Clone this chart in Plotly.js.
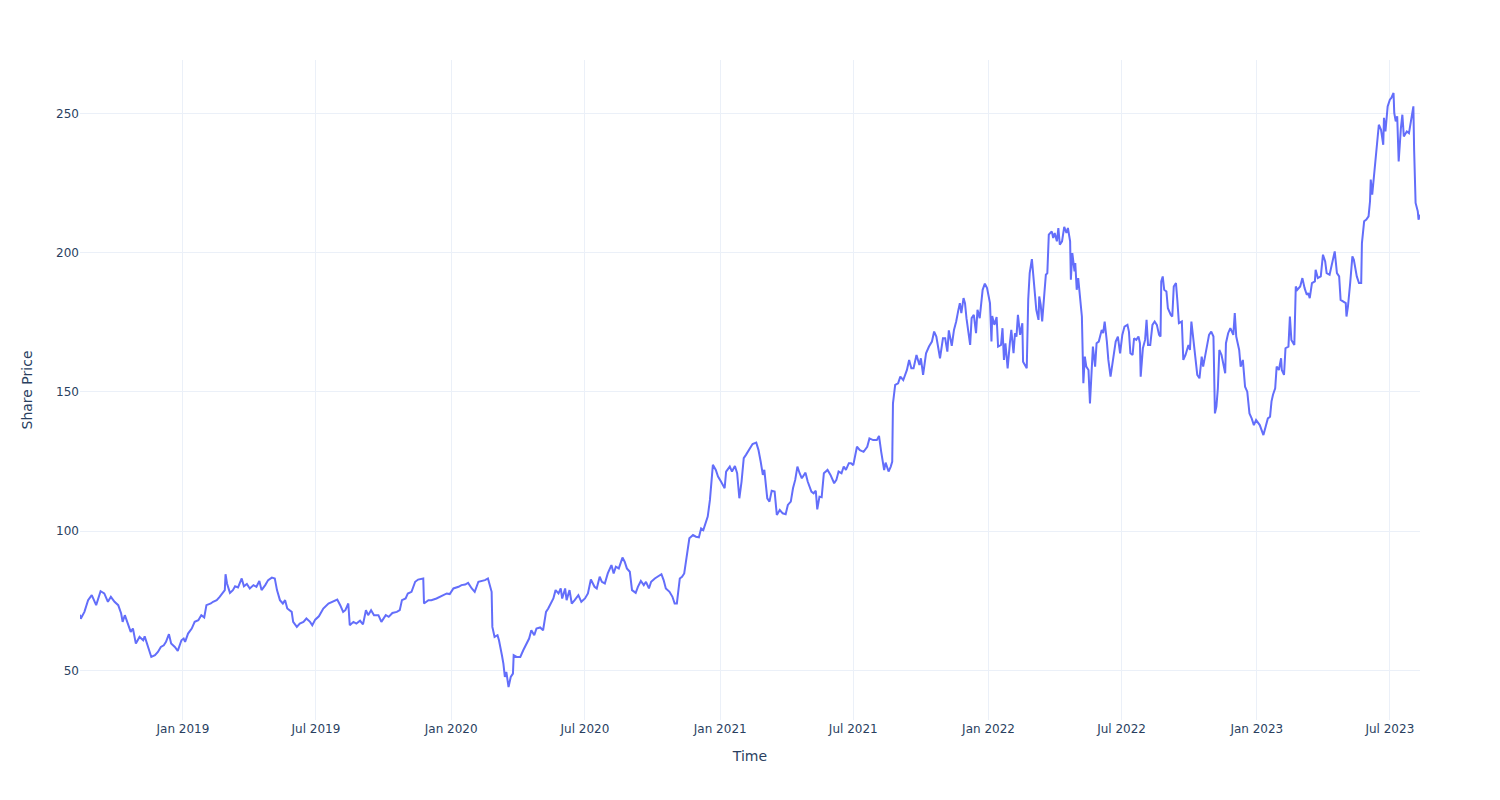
<!DOCTYPE html>
<html>
<head>
<meta charset="utf-8">
<script src="https://cdn.plot.ly/plotly-3.0.1.min.js"></script>
<style>html,body{margin:0;padding:0;background:#fff;}#chart{width:1500px;height:800px;}</style>
</head>
<body>
<div id="chart"></div>
<script>
const dates = [
"2018-08-14","2018-08-15","2018-08-20","2018-08-25","2018-08-30","2018-09-05","2018-09-11","2018-09-16","2018-09-21","2018-09-25",
"2018-09-30","2018-10-05","2018-10-09","2018-10-11","2018-10-14","2018-10-19","2018-10-22","2018-10-25","2018-10-29","2018-11-03",
"2018-11-08","2018-11-10","2018-11-14","2018-11-19","2018-11-24","2018-11-28","2018-12-02","2018-12-06","2018-12-09","2018-12-13",
"2018-12-16","2018-12-21","2018-12-25","2018-12-30",
"2019-01-02","2019-01-04","2019-01-08","2019-01-13","2019-01-17","2019-01-22","2019-01-26","2019-01-30","2019-02-02","2019-02-08",
"2019-02-11","2019-02-16","2019-02-20","2019-02-24","2019-02-27","2019-02-28","2019-03-02","2019-03-06","2019-03-10","2019-03-13",
"2019-03-17","2019-03-22","2019-03-25","2019-03-29","2019-04-02","2019-04-07","2019-04-11","2019-04-15","2019-04-18","2019-04-23",
"2019-04-27","2019-05-02","2019-05-06","2019-05-09","2019-05-13","2019-05-17","2019-05-20","2019-05-23","2019-05-29","2019-05-31",
"2019-06-05","2019-06-09","2019-06-14","2019-06-18","2019-06-23","2019-06-26","2019-06-30","2019-07-05",
"2019-07-11","2019-07-18","2019-07-24","2019-07-30","2019-08-03","2019-08-07","2019-08-10","2019-08-14","2019-08-16","2019-08-21",
"2019-08-25","2019-08-30","2019-09-03","2019-09-07","2019-09-10","2019-09-14","2019-09-18","2019-09-24","2019-09-28","2019-10-04",
"2019-10-08","2019-10-13","2019-10-19","2019-10-23","2019-10-26","2019-10-31","2019-11-03","2019-11-08","2019-11-13","2019-11-17",
"2019-11-24","2019-11-25","2019-12-01","2019-12-05","2019-12-12","2019-12-19","2019-12-26","2019-12-30",
"2020-01-04","2020-01-11","2020-01-15","2020-01-20","2020-01-24","2020-01-29","2020-02-02","2020-02-07","2020-02-11","2020-02-16",
"2020-02-20","2020-02-23","2020-02-25","2020-02-26","2020-02-29","2020-03-04","2020-03-06","2020-03-10","2020-03-12","2020-03-14",
"2020-03-16","2020-03-19","2020-03-22","2020-03-25","2020-03-26","2020-03-30","2020-04-04","2020-04-08","2020-04-13","2020-04-16",
"2020-04-19","2020-04-23","2020-04-26","2020-05-01","2020-05-05","2020-05-09","2020-05-12","2020-05-15","2020-05-19","2020-05-22",
"2020-05-26","2020-05-29","2020-05-31","2020-06-04","2020-06-06","2020-06-10","2020-06-13","2020-06-17","2020-06-22","2020-06-26",
"2020-07-01","2020-07-05","2020-07-09","2020-07-14","2020-07-17","2020-07-21","2020-07-24","2020-07-28","2020-08-01","2020-08-06",
"2020-08-09","2020-08-12","2020-08-16","2020-08-21","2020-08-24","2020-08-27","2020-08-31","2020-09-03","2020-09-08","2020-09-11",
"2020-09-15","2020-09-19","2020-09-22","2020-09-26","2020-09-29","2020-10-04","2020-10-08","2020-10-13","2020-10-16","2020-10-19",
"2020-10-24","2020-10-28","2020-10-31","2020-11-03","2020-11-07","2020-11-10","2020-11-13","2020-11-16","2020-11-18","2020-11-20",
"2020-11-25","2020-11-29","2020-12-03","2020-12-06","2020-12-09","2020-12-12","2020-12-15","2020-12-18","2020-12-20","2020-12-22",
"2020-12-26","2020-12-29",
"2021-01-02","2021-01-07","2021-01-09","2021-01-14","2021-01-17","2021-01-21","2021-01-24","2021-01-27","2021-01-30","2021-02-02",
"2021-02-05","2021-02-10","2021-02-14","2021-02-19","2021-02-22","2021-02-25","2021-02-28","2021-03-02","2021-03-06","2021-03-09",
"2021-03-12","2021-03-16","2021-03-19","2021-03-23","2021-03-27","2021-03-31","2021-04-03","2021-04-07","2021-04-10","2021-04-13",
"2021-04-16","2021-04-19","2021-04-22","2021-04-27","2021-04-30","2021-05-05","2021-05-08","2021-05-11","2021-05-13","2021-05-16",
"2021-05-19","2021-05-22","2021-05-27","2021-05-31","2021-06-05","2021-06-08","2021-06-11","2021-06-15","2021-06-18","2021-06-21",
"2021-06-25","2021-06-28","2021-07-01","2021-07-06","2021-07-10","2021-07-15","2021-07-20","2021-07-23","2021-07-28","2021-08-02",
"2021-08-05","2021-08-08","2021-08-12","2021-08-14","2021-08-18","2021-08-21","2021-08-23","2021-08-24","2021-08-27","2021-08-31",
"2021-09-03","2021-09-07","2021-09-12","2021-09-15","2021-09-18","2021-09-21","2021-09-25","2021-09-29","2021-10-01","2021-10-04",
"2021-10-08","2021-10-12","2021-10-16","2021-10-19","2021-10-22","2021-10-27","2021-10-31","2021-11-03","2021-11-06","2021-11-08",
"2021-11-12","2021-11-15","2021-11-18","2021-11-21","2021-11-23","2021-11-25","2021-11-28","2021-11-30","2021-12-02","2021-12-07",
"2021-12-09","2021-12-12","2021-12-15","2021-12-17","2021-12-20","2021-12-24","2021-12-27","2021-12-30",
"2022-01-03","2022-01-05","2022-01-06","2022-01-09","2022-01-12","2022-01-14","2022-01-18","2022-01-20","2022-01-22","2022-01-24",
"2022-01-27","2022-01-30","2022-02-01","2022-02-04","2022-02-06","2022-02-08","2022-02-10","2022-02-13","2022-02-16","2022-02-17",
"2022-02-22","2022-02-24","2022-02-26","2022-03-01","2022-03-03","2022-03-05","2022-03-07","2022-03-10","2022-03-11","2022-03-13",
"2022-03-15","2022-03-18","2022-03-20","2022-03-22","2022-03-24","2022-03-28","2022-03-30","2022-04-01","2022-04-04","2022-04-06",
"2022-04-08","2022-04-11","2022-04-14","2022-04-17","2022-04-19","2022-04-22","2022-04-23","2022-04-25","2022-04-28","2022-04-29",
"2022-05-01","2022-05-03","2022-05-05","2022-05-08","2022-05-10","2022-05-12","2022-05-14","2022-05-17","2022-05-19","2022-05-21",
"2022-05-23","2022-05-26","2022-05-28","2022-05-31","2022-06-04","2022-06-06","2022-06-08","2022-06-11","2022-06-13","2022-06-16",
"2022-06-20","2022-06-23","2022-06-26","2022-06-29","2022-07-02","2022-07-05","2022-07-09","2022-07-11","2022-07-13","2022-07-16",
"2022-07-18","2022-07-21","2022-07-24","2022-07-26","2022-07-27","2022-07-30","2022-08-02","2022-08-04","2022-08-06","2022-08-09",
"2022-08-12","2022-08-15","2022-08-18","2022-08-21","2022-08-23","2022-08-24","2022-08-26","2022-08-28","2022-08-31","2022-09-02",
"2022-09-06","2022-09-08","2022-09-10","2022-09-13","2022-09-15","2022-09-17","2022-09-21","2022-09-23","2022-09-26","2022-09-30",
"2022-10-02","2022-10-04","2022-10-06","2022-10-09","2022-10-12","2022-10-15","2022-10-18","2022-10-20","2022-10-22","2022-10-25",
"2022-10-28","2022-10-31","2022-11-03","2022-11-05","2022-11-07","2022-11-09","2022-11-11","2022-11-14","2022-11-16","2022-11-19",
"2022-11-20","2022-11-23","2022-11-26","2022-11-30","2022-12-02","2022-12-04","2022-12-08","2022-12-10","2022-12-13","2022-12-16",
"2022-12-19","2022-12-22","2022-12-25","2022-12-28","2022-12-31",
"2023-01-05","2023-01-10","2023-01-12","2023-01-16","2023-01-19","2023-01-21","2023-01-23","2023-01-26","2023-01-28","2023-01-31",
"2023-02-03","2023-02-04","2023-02-07","2023-02-09","2023-02-13","2023-02-15","2023-02-17","2023-02-21","2023-02-23","2023-02-25",
"2023-03-01","2023-03-04","2023-03-07","2023-03-10","2023-03-12","2023-03-14","2023-03-17","2023-03-21","2023-03-22","2023-03-25",
"2023-03-29","2023-04-01","2023-04-04","2023-04-06","2023-04-10","2023-04-14","2023-04-17","2023-04-20","2023-04-23","2023-04-25",
"2023-04-29","2023-05-02","2023-05-03","2023-05-05","2023-05-08","2023-05-11","2023-05-13","2023-05-17","2023-05-20","2023-05-23",
"2023-05-24","2023-05-27","2023-05-30","2023-06-02","2023-06-04","2023-06-05","2023-06-07","2023-06-08","2023-06-11","2023-06-13",
"2023-06-16","2023-06-19","2023-06-20","2023-06-22","2023-06-23","2023-06-25","2023-06-28","2023-07-01","2023-07-03","2023-07-06",
"2023-07-07","2023-07-09","2023-07-11","2023-07-13","2023-07-16","2023-07-18","2023-07-20","2023-07-24","2023-07-27","2023-07-30",
"2023-08-02","2023-08-03","2023-08-05","2023-08-08","2023-08-09","2023-08-11"
];

const prices = [
70.0,68.5,71.0,75.2,77.0,73.4,78.4,77.6,74.6,76.4,
74.6,73.4,70.4,67.4,69.8,65.6,63.8,65.0,59.6,62.0,
60.8,62.2,58.6,54.8,55.4,56.6,58.4,59.0,60.2,63.0,
59.6,58.4,57.0,60.8,
61.4,60.2,63.2,65.0,67.4,68.0,69.8,69.0,73.4,74.0,
74.6,75.2,76.4,77.6,78.8,84.5,81.2,77.8,78.8,80.2,
79.8,83.0,80.2,81.0,79.4,80.6,80.0,82.1,78.8,80.6,
82.4,83.3,83.0,78.8,75.2,74.0,75.2,72.2,71.0,67.4,
65.6,66.8,67.4,68.6,67.4,66.2,68.2,69.4,
72.2,74.0,74.6,75.4,73.4,71.0,71.6,74.0,66.2,67.4,
66.8,67.8,66.5,71.6,69.8,71.6,69.8,69.8,67.4,69.8,
69.2,70.6,71.0,71.6,75.2,75.8,77.6,78.2,81.8,82.6,
83.0,74.0,75.2,75.2,75.8,76.7,77.6,77.4,
79.4,80.0,80.6,80.8,81.4,79.4,78.2,81.8,82.1,82.4,
83.0,80.0,78.2,65.6,62.0,62.6,60.8,55.4,52.4,47.6,
49.4,44.0,47.6,48.8,55.4,54.8,54.8,57.2,59.6,61.4,
64.4,62.6,65.0,65.4,64.4,71.0,72.2,74.0,75.8,78.8,
77.6,79.4,75.8,79.4,75.2,78.8,74.0,75.2,77.0,74.6,
75.8,77.6,82.6,80.0,79.4,83.6,81.8,81.2,84.8,87.8,
84.8,87.2,86.6,90.5,89.0,86.6,85.4,78.8,77.8,80.0,
82.1,80.6,81.8,79.4,81.8,83.0,83.6,84.5,82.4,79.4,
78.2,76.4,74.0,74.0,83.0,83.6,84.8,89.6,94.4,97.4,
98.6,98.0,97.8,101.0,100.4,102.8,105.2,111.2,118.4,123.8,
122.0,119.6,
117.8,115.4,121.4,123.2,121.4,123.4,120.8,111.8,117.8,126.2,
127.4,129.8,131.3,131.8,129.2,125.0,120.2,122.0,111.8,110.6,
114.5,114.2,105.8,107.6,106.4,106.1,109.4,110.6,115.4,118.4,
123.2,120.8,119.0,121.0,117.8,114.2,113.6,114.5,107.8,112.4,
112.2,120.8,122.0,120.2,117.2,118.4,121.4,120.8,123.2,122.0,
124.4,124.4,123.7,130.3,129.1,128.5,130.3,133.3,132.7,132.7,
134.2,128.5,121.9,124.6,121.4,123.2,125.0,145.9,152.5,153.1,
155.5,154.3,157.9,161.5,158.5,158.5,163.3,159.7,162.1,156.1,
163.9,166.3,168.1,171.7,169.9,162.1,169.3,169.3,164.5,172.1,
166.6,172.3,175.3,179.5,181.9,178.3,183.7,181.9,176.5,166.9,
176.5,177.7,171.1,179.5,176.5,186.7,188.9,187.3,
181.9,168.1,177.3,174.1,176.9,166.3,166.9,172.9,161.5,167.5,
158.5,167.5,172.3,163.9,171.1,169.9,177.7,170.5,174.7,160.9,
158.5,183.1,192.7,197.7,192.1,187.9,179.5,175.9,184.3,181.3,
175.3,185.5,192.1,192.7,206.5,207.7,205.3,207.1,204.1,208.9,
202.9,204.1,209.3,207.1,208.9,204.1,190.3,199.9,193.3,196.3,
186.7,190.9,184.3,177.1,153.1,162.7,159.1,157.9,145.9,159.1,
166.3,159.1,167.5,168.1,172.3,171.1,175.3,168.1,161.5,155.5,
162.7,168.1,169.9,163.9,170.5,173.5,174.1,171.7,163.9,163.3,
169.3,168.7,169.9,167.5,155.5,165.7,168.7,175.9,166.9,166.9,
174.1,175.3,174.1,170.5,169.9,189.7,191.5,186.7,186.1,180.1,
177.7,177.1,187.9,189.1,182.5,174.7,175.3,161.5,163.3,166.9,
165.1,175.3,170.5,163.3,156.1,154.9,162.7,159.1,162.1,166.3,
170.5,171.7,169.9,142.3,144.7,151.3,165.1,163.3,160.3,156.7,
167.5,171.1,172.9,170.5,178.3,169.9,165.1,159.1,161.5,151.9,
150.1,142.3,140.5,138.1,139.9,
138.1,134.5,136.3,140.5,141.1,146.6,149.0,151.3,159.1,157.9,
162.1,157.9,156.1,165.7,166.3,177.1,168.7,166.9,187.9,186.7,
187.9,190.9,187.3,184.9,185.5,183.7,189.1,189.7,193.9,190.9,
191.5,199.3,196.9,192.7,192.1,196.9,200.5,192.7,191.5,183.1,
182.5,181.9,177.1,180.7,189.1,198.7,197.5,191.5,189.1,189.1,
203.5,211.3,211.9,213.1,218.5,226.3,220.9,223.9,230.5,238.2,
246.0,244.2,242.4,238.8,248.5,243.6,252.6,255.0,255.6,257.4,
250.2,247.2,249.0,232.8,244.8,249.6,241.8,243.6,243.0,248.5,
252.6,237.1,217.9,214.9,211.9,213.7
];

const xTitle = "Time";
const yTitle = "Share Price";

const trace = {
  x: dates,
  y: prices,
  type: "scatter",
  mode: "lines",
  line: {color: "#636efa", width: 2},
  showlegend: false
};

const gridColor = "#EBF0F8";
const layout = {
  width: 1500,
  height: 800,
  margin: {l: 80, r: 80, t: 60, b: 80},
  paper_bgcolor: "#ffffff",
  plot_bgcolor: "#ffffff",
  font: {family: "DejaVu Sans, Verdana, sans-serif", size: 12, color: "#2a3f5f"},
  showlegend: false,
  xaxis: {
    type: "date",
    title: {text: xTitle, font: {size: 14}, standoff: 16},
    gridcolor: gridColor,
    zerolinecolor: gridColor,
    showline: false,
    ticks: "",
    dtick: "M6",
    tick0: "2019-01-01",
    tickformat: "%b %Y",
    automargin: true
  },
  yaxis: {
    title: {text: yTitle, font: {size: 14}, standoff: 20},
    gridcolor: gridColor,
    zerolinecolor: gridColor,
    showline: false,
    ticks: "",
    dtick: 50,
    automargin: true
  }
};

Plotly.newPlot("chart", [trace], layout, {displayModeBar: false, responsive: false});
</script>
</body>
</html>
